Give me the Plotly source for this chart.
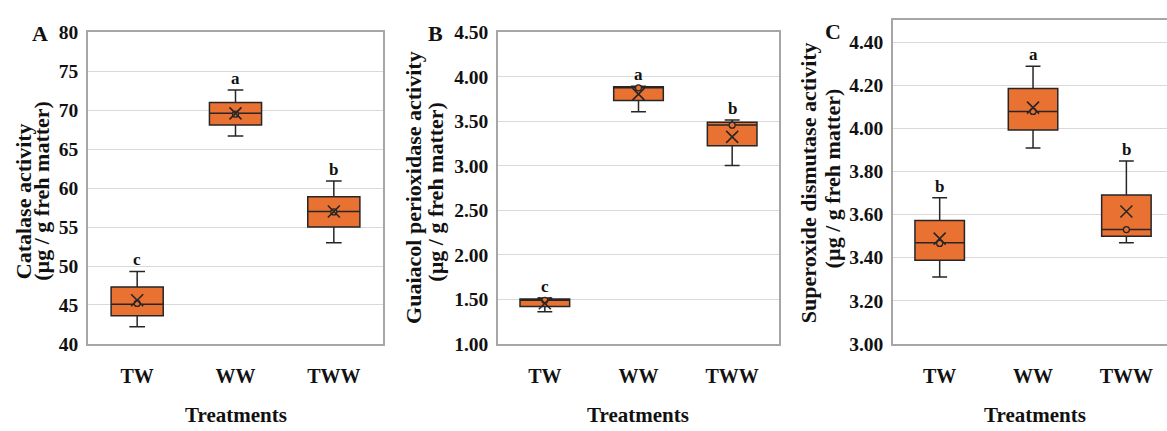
import plotly.graph_objects as go

W, H = 1167, 431

categories = ["TW", "WW", "TWW"]

# Panel A: Catalase activity
cat_low = [42.2, 66.7, 53.0]
cat_q1 = [43.6, 68.1, 55.0]
cat_median = [45.1, 69.6, 57.0]
cat_q3 = [47.3, 71.0, 58.9]
cat_high = [49.3, 72.6, 60.9]
cat_mean = [45.6, 69.6, 57.0]
cat_point = [45.2, 69.5, 56.95]
cat_letters = ["c", "a", "b"]

# Panel B: Guaiacol perioxidase activity
gpx_low = [1.36, 3.607, 3.005]
gpx_q1 = [1.42, 3.735, 3.226]
gpx_median = [1.49, 3.88, 3.46]
gpx_q3 = [1.505, 3.89, 3.49]
gpx_high = [1.516, 3.895, 3.514]
gpx_mean = [1.456, 3.806, 3.326]
gpx_point = [1.49, 3.877, 3.457]
gpx_letters = ["c", "a", "b"]

# Panel C: Superoxide dismutase activity
sod_low = [3.31, 3.908, 3.469]
sod_q1 = [3.388, 3.992, 3.499]
sod_median = [3.469, 4.078, 3.53]
sod_q3 = [3.572, 4.184, 3.69]
sod_high = [3.678, 4.288, 3.848]
sod_mean = [3.488, 4.096, 3.614]
sod_point = [3.466, 4.078, 3.53]
sod_letters = ["b", "a", "b"]

ORANGE = "#E97132"
DARK = "#262626"
FONT = "Liberation Serif"


def xp(px):
    return px / W


def yp(py):
    return 1 - py / H


fig = go.Figure()

panels = [
    dict(ax="", low=cat_low, q1=cat_q1, med=cat_median, q3=cat_q3, high=cat_high,
         mean=cat_mean, pt=cat_point, letters=cat_letters),
    dict(ax="2", low=gpx_low, q1=gpx_q1, med=gpx_median, q3=gpx_q3, high=gpx_high,
         mean=gpx_mean, pt=gpx_point, letters=gpx_letters),
    dict(ax="3", low=sod_low, q1=sod_q1, med=sod_median, q3=sod_q3, high=sod_high,
         mean=sod_mean, pt=sod_point, letters=sod_letters),
]

for p in panels:
    xa, ya = "x" + p["ax"], "y" + p["ax"]
    fig.add_trace(go.Box(
        x=categories, q1=p["q1"], median=p["med"], q3=p["q3"],
        lowerfence=p["low"], upperfence=p["high"],
        fillcolor=ORANGE, line=dict(color=DARK, width=1.5),
        width=0.53, whiskerwidth=0.3, boxpoints=False,
        xaxis=xa, yaxis=ya, showlegend=False, hoverinfo="skip",
    ))
    fig.add_trace(go.Scatter(
        x=categories, y=p["pt"], mode="markers",
        marker=dict(symbol="circle", size=6, color=ORANGE,
                    line=dict(color=DARK, width=1.3)),
        xaxis=xa, yaxis=ya, showlegend=False, hoverinfo="skip",
    ))
    fig.add_trace(go.Scatter(
        x=categories, y=p["mean"], mode="markers",
        marker=dict(symbol="x-thin-open", size=12, color=DARK,
                    line=dict(color=DARK, width=1.6)),
        xaxis=xa, yaxis=ya, showlegend=False, hoverinfo="skip",
    ))
    for c, h, t in zip(categories, p["high"], p["letters"]):
        fig.add_annotation(x=c, y=h, xref=xa, yref=ya, text=t, showarrow=False,
                           yanchor="bottom", yshift=0,
                           font=dict(family=FONT, size=17, color="#111", weight="bold"))

axis_common = dict(
    showgrid=False, showline=True, linecolor="#a6a6a6", linewidth=1.5,
    ticks="", tickfont=dict(family=FONT, size=20, color="#111", weight="bold"),
    zeroline=False, fixedrange=True,
)
y_common = dict(
    showgrid=True, gridcolor="#d9d9d9", gridwidth=1, showline=True,
    linecolor="#a6a6a6", linewidth=1.5, ticks="", zeroline=False,
    tickfont=dict(family=FONT, size=19.5, color="#111", weight="bold"),
    ticklabelstandoff=4,
)

top_ab = yp(23.5)
bot = yp(351)
top_c = yp(11)

fig.update_layout(
    width=W, height=H, margin=dict(l=0, r=0, t=0, b=0),
    paper_bgcolor="white", plot_bgcolor="white",
    xaxis=dict(axis_common, domain=[xp(88), xp(383)], range=[-0.5, 2.5],
               anchor="y", mirror=True, ticklabelstandoff=13),
    yaxis=dict(y_common, domain=[bot, top_ab], range=[40, 80], dtick=5,
               anchor="x", mirror=True),
    xaxis2=dict(axis_common, domain=[xp(498), xp(779)], range=[-0.5, 2.5],
                anchor="y2", mirror=True, ticklabelstandoff=13),
    yaxis2=dict(y_common, domain=[bot, top_ab], range=[1, 4.5], dtick=0.5,
                tickformat=".2f", anchor="x2", mirror=True),
    xaxis3=dict(axis_common, domain=[xp(893), 1], range=[-0.5, 2.435],
                anchor="y3", mirror=True, ticklabelstandoff=13),
    yaxis3=dict(y_common, domain=[bot, top_c], range=[3, 4.5],
                tickvals=[3.0, 3.2, 3.4, 3.6, 3.8, 4.0, 4.2, 4.4],
                tickformat=".2f", anchor="x3", mirror=False),
)

title_font = dict(family=FONT, size=22, color="#111", weight="bold")
label_font = dict(family=FONT, size=21, color="#111", weight="bold")

# Panel letters
for txt, x, y in [("A", 40, 25), ("B", 435, 25), ("C", 833, 23)]:
    fig.add_annotation(x=xp(x), y=yp(y), xref="paper", yref="paper", text=txt,
                       showarrow=False, xanchor="center", yanchor="middle",
                       font=dict(family=FONT, size=22, color="#111", weight="bold"))

# Y-axis titles (two lines each): (line1, line2, x1, x2, yc1, yc2)
ytitles = [
    ("Catalase activity", "(µg / g freh matter)", 23, 42, 201, 190),
    ("Guaiacol perioxidase activity", "(µg / g freh matter)", 414, 436, 187, 191),
    ("Superoxide dismutase activity", "(µg / g freh matter)", 808, 832, 182, 177),
]
for l1, l2, x1, x2, y1, y2 in ytitles:
    for txt, x, yc in [(l1, x1, y1), (l2, x2, y2)]:
        fig.add_annotation(x=xp(x), y=yp(yc), xref="paper", yref="paper", text=txt,
                           showarrow=False, textangle=-90, xanchor="center",
                           yanchor="middle", font=title_font)

# X-axis titles
for xc in [(88 + 383) / 2, (498 + 779) / 2, 1035]:
    fig.add_annotation(x=xp(xc), y=0, xref="paper", yref="paper",
                       text="Treatments", showarrow=False, xanchor="center",
                       yanchor="bottom", yshift=-9, font=label_font)

fig.write_html("out.html")
